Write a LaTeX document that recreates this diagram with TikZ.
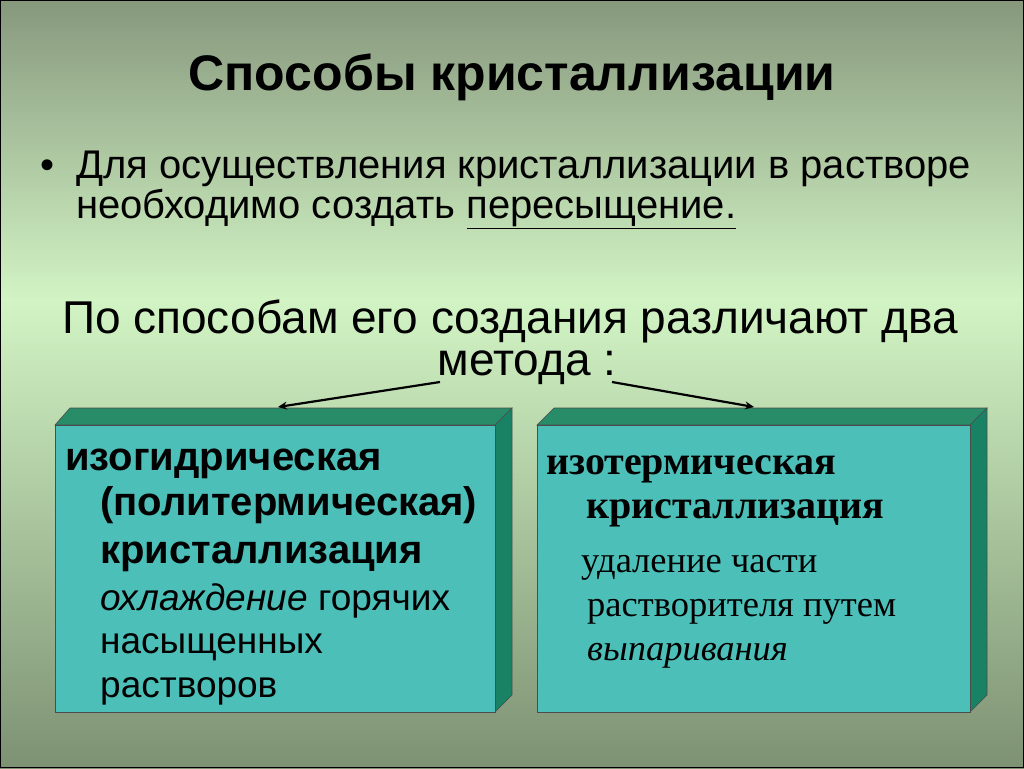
\documentclass[tikz,border=0pt]{standalone}
\usepackage{fontspec}
\setmainfont{Liberation Sans}
\newfontfamily\serifF{Liberation Serif}
\definecolor{bgtop}{RGB}{135,152,125}
\definecolor{bgmid}{RGB}{210,244,196}
\definecolor{bgbot}{RGB}{125,145,115}
\definecolor{front}{RGB}{76,192,184}
\definecolor{topf}{RGB}{40,140,105}
\definecolor{sidef}{RGB}{25,130,100}
\usetikzlibrary{arrows.meta}
\tikzset{face/.style={draw=black!70,line width=0.6pt},
 ln/.style={anchor=base west,inner sep=0pt},
 lf/.style={ln,font=\fontsize{40}{44}\selectfont},
 lr/.style={ln,font=\serifF\fontsize{40}{44}\selectfont},
 arr/.style={line width=2.2pt,-{Stealth[length=9pt,width=8pt]}}}
\begin{document}
\begin{tikzpicture}[x=1pt,y=-1pt]
\useasboundingbox (0,0) rectangle (1024,768);
\shade[top color=bgtop,bottom color=bgmid] (0,0) rectangle (1024,300);
\shade[top color=bgmid,bottom color=bgbot] (0,300) rectangle (1024,768);
\draw[black,line width=1pt] (0.5,0.5) rectangle (1023.5,767.5);
\node[anchor=base,inner sep=0pt,font=\fontsize{50}{54}\selectfont\bfseries] (title) at (512,90) {Способы кристаллизации};
\node[ln,font=\fontsize{40}{44}\selectfont] (bul) at (40,178) {•};
\node[ln,font=\fontsize{40}{44}\selectfont] (p1) at (76,178) {Для осуществления кристаллизации в растворе};
\node[ln,font=\fontsize{40}{44}\selectfont] (p1b) at (76,218) {необходимо создать \underline{пересыщение.}};
\node[anchor=base,inner sep=0pt,font=\fontsize{46}{50}\selectfont] (p2) at (510,333) {По способам его создания различают два};
\node[anchor=base,inner sep=0pt,font=\fontsize{46}{50}\selectfont] (p2b) at (527,375) {метода :};
% left box
\filldraw[face,fill=topf] (55,425)--(70,408)--(512,408)--(495,425)--cycle;
\filldraw[face,fill=sidef] (495,425)--(512,408)--(512,695)--(495,712)--cycle;
\node[face,fill=front,minimum width=440pt,minimum height=287pt,anchor=north west] (L) at (55,425) {};
% right box
\filldraw[face,fill=topf] (537,425)--(554,408)--(987,408)--(970,425)--cycle;
\filldraw[face,fill=sidef] (970,425)--(987,408)--(987,695)--(970,712)--cycle;
\node[face,fill=front,minimum width=433pt,minimum height=287pt,anchor=north west] (R) at (537,425) {};
\coordinate (a0) at (440,382); \coordinate (a1) at (278,407);
\coordinate (b0) at (612,382); \coordinate (b1) at (754,407);
\draw[arr] (a0)--(a1);
\draw[arr] (b0)--(b1);
\node[lf,font=\fontsize{40}{44}\selectfont\bfseries] (l1) at (65,470) {изогидрическая};
\node[lf,font=\fontsize{40}{44}\selectfont\bfseries] (l2) at (100,515) {(политермическая)};
\node[lf,font=\fontsize{40}{44}\selectfont\bfseries] (l3) at (100,563) {кристаллизация};
\node[lf,font=\fontsize{37}{40}\selectfont] (l4) at (100,610) {\itshape охлаждение\upshape\ горячих};
\node[lf,font=\fontsize{37}{40}\selectfont] (l5) at (100,653) {насыщенных};
\node[lf,font=\fontsize{37}{40}\selectfont] (l6) at (100,697) {растворов};
\node[lr,font=\serifF\fontsize{40}{44}\selectfont\bfseries] (r1) at (546,474) {изотермическая};
\node[lr,font=\serifF\fontsize{40}{44}\selectfont\bfseries] (r2) at (586,518) {кристаллизация};
\node[lr,font=\serifF\fontsize{36.5}{40}\selectfont] (r3) at (581,572) {удаление части};
\node[lr,font=\serifF\fontsize{36.5}{40}\selectfont] (r4) at (587,616) {растворителя путем};
\node[lr,font=\serifF\fontsize{36.5}{40}\selectfont\itshape] (r5) at (587,660) {выпаривания};
\end{tikzpicture}
\end{document}
